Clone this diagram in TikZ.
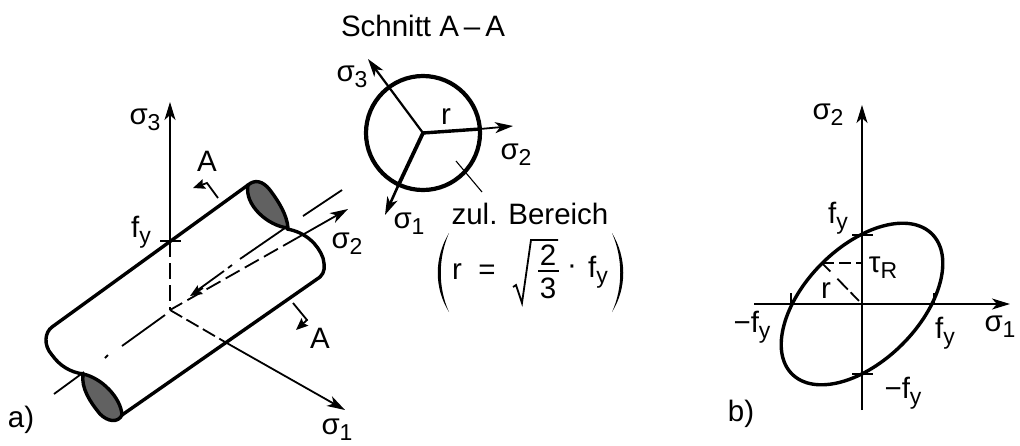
\documentclass[tikz,border=0pt]{standalone}
\usepackage{fontspec}
\setmainfont{Liberation Sans}
\usetikzlibrary{arrows.meta}
\newcommand{\sbs}[1]{\raisebox{-.2em}{\fontsize{23}{23}\selectfont #1}}
\newcommand{\sg}[1]{σ\sbs{#1}}
\newcommand{\fy}{f\sbs{y}}
\tikzset{
 lbl/.style={inner sep=0pt,font=\fontsize{29.5}{32}\selectfont},
 thin line/.style={line width=1.8pt},
 heavy/.style={line width=3.4pt},
 tip/.style={-{Stealth[length=18pt,width=11pt,inset=5pt]}},
 smalltip/.style={-{Stealth[length=12pt,width=10pt,inset=2pt]}},
 sec/.style={line width=4.2pt},
 shade fill/.style={fill=black!62},
}
\begin{document}
\begin{tikzpicture}[x=1pt,y=-1pt]
\useasboundingbox (0,0) rectangle (1020,445);
% ---------- a) axes
\coordinate (O) at (170,310);
\coordinate (f) at (170,241);
\coordinate (s3) at (170,102);
\coordinate (s1) at (345,410);
\coordinate (s1v) at (225,342);
\coordinate (s2) at (348,209);
\coordinate (s2v) at (297,238);
\coordinate (cl) at (54,394);
\coordinate (cr) at (342,190);
\draw[thin line,tip] (f) -- (s3);
\draw[thin line,dash pattern=on 16pt off 6pt] (f) -- (O);
\draw[thin line,tip] (s1v) -- (s1);
\draw[thin line,dash pattern=on 14pt off 5pt] (O) -- (s1v);
\draw[thin line,tip] (s2v) -- (s2);
\draw[thin line,dash pattern=on 16pt off 6pt] (s2v) -- (O);
\draw[thin line,smalltip] (203,288) -- (190,296);
% centre line
\draw[thin line] (cl) -- (84,372);
\draw[thin line] (105,358) -- (108,355);
\draw[thin line] (122,346) -- (165,315);
\draw[thin line] (195,292) -- (224,271);
\draw[thin line] (228,268) -- (232,265);
\draw[thin line] (240,259) -- (285,228);
\draw[thin line] (303,216) -- (cr);
% tick
\draw[thin line] (160,241) -- (181,241);
% cylinder
\coordinate (ul) at (52,327);
\coordinate (ur) at (248,185);
\coordinate (ll) at (122,415);
\coordinate (lr) at (320,277);
\draw[heavy,line cap=round] (ul) -- (ur);
\draw[heavy,line cap=round] (ll) -- (lr);
\draw[heavy,line cap=round] (ul) .. controls (45,332) and (43,345) .. (52,355) .. controls (60,366) and (70,372) .. (83,374);
\draw[heavy,line cap=round] (287,229) .. controls (305,232) and (318,244) .. (323,258) .. controls (325,267) and (325,272) .. (lr);
% lens ends
\draw[heavy,shade fill] (248,185) .. controls (255,179) and (263,181) .. (270,190) .. controls (279,202) and (287,215) .. (288,228) .. controls (268,226) and (244,205) .. (248,185) -- cycle;
\draw[heavy,shade fill] (83,374) .. controls (102,378) and (121,398) .. (122,415) .. controls (118,423) and (108,422) .. (100,414) .. controls (90,402) and (81,388) .. (83,374) -- cycle;
% section arrows
\coordinate (ab1) at (218,198);
\coordinate (ab2) at (207,183);
\coordinate (ab3) at (193,188);
\coordinate (bb1) at (293,303);
\coordinate (bb2) at (307,320);
\coordinate (bb3) at (296,330);
\draw[thin line,smalltip] (ab1) -- (ab2) -- (ab3);
\draw[thin line,smalltip] (bb1) -- (bb2) -- (bb3);
\node[lbl] (ls3) at (145,120) {\sg{3}};
\node[lbl] (la1) at (207,161) {A};
\node[lbl] (lfy) at (141,232) {\fy};
\node[lbl] (ls2) at (347,244) {\sg{2}};
\node[lbl] (la2) at (320,338) {A};
\node[lbl] (ls1) at (337,430) {\sg{1}};
\node[lbl] (la) at (21,420) {a)};
% ---------- section
\node[lbl] (title) at (423,26) {Schnitt A\,–\,A};
\coordinate (C) at (423,133);
\draw[sec] (C) circle (57);
\coordinate (t3) at (368,59);
\coordinate (t2) at (513,126);
\coordinate (t1) at (385,215);
\coordinate (m3) at (388,88);
\coordinate (m2) at (480,129);
\coordinate (m1) at (398,186);
\draw[line width=2.2pt,tip] (C) -- (t3);
\draw[heavy,line cap=round] (C) -- (m2);
\draw[thin line,tip] (m2) -- (t2);
\draw[line width=3.8pt,line cap=round] (C) -- (m1);
\draw[line width=2.6pt,tip] (m1) -- (t1);
\coordinate (la1c) at (456,161);
\coordinate (la2c) at (482,192);
\draw[line width=1.1pt] (la1c) -- (la2c);
\node[lbl] (ss3) at (352,77) {\sg{3}};
\node[lbl] (rr) at (446,117) {r};
\node[lbl] (ss2) at (516,155) {\sg{2}};
\node[lbl] (ss1) at (409,224) {\sg{1}};
\node[lbl] (zb) at (530,214) {zul. Bereich};
% formula
\node[lbl] (fr) at (457,272) {r};
\node[lbl] (feq) at (487,272) {=};
\node[lbl] (f2) at (548,255) {2};
\node[lbl] (f3) at (548,288) {3};
\node[lbl] (fd) at (572,270) {·};
\node[lbl] (ff) at (598,272) {\fy};
\draw[line width=1.8pt,line join=miter] (513,287) -- (516,285) -- (522,303) -- (531,240) -- (558,240);
\draw[line width=1.8pt] (538,271) -- (559,271);
\fill (449,233) .. controls (434,258) and (434,288) .. (449,312) .. controls (438,288) and (438,258) .. (449,233) -- cycle;
\fill (612,233) .. controls (627,258) and (627,288) .. (612,312) .. controls (623,288) and (623,258) .. (612,233) -- cycle;
% ---------- b)
\coordinate (B) at (862,304);
\coordinate (bt) at (862,105);
\coordinate (bb) at (862,410);
\coordinate (bl) at (754,304);
\coordinate (br) at (1010,304);
\draw[thin line,tip] (bb) -- (bt);
\draw[thin line,tip] (bl) -- (br);
\draw[heavy] (B) ellipse [x radius=99,y radius=57,rotate=45];
\coordinate (rp) at (822,263);
\coordinate (tp) at (862,263);
\draw[thin line,dash pattern=on 12pt off 5pt] (rp) -- (tp);
\draw[thin line,dash pattern=on 12pt off 10pt on 15pt off 4pt] (rp) -- (B);
\draw[thin line] (852,235) -- (873,235);
\draw[thin line] (852,374) -- (873,374);
\draw[thin line] (791,293) -- (791,304);
\draw[thin line] (934,293) -- (934,304);
\node[lbl] (bs2) at (828,115) {\sg{2}};
\node[lbl] (bfy) at (838,218) {\fy};
\node[lbl] (btr) at (883,268) {τ\sbs{R}};
\node[lbl] (br2) at (826,291) {r};
\node[lbl] (bmf) at (752,327) {−\fy};
\node[lbl] (bf2) at (945,333) {\fy};
\node[lbl] (bs1) at (1000,327) {\sg{1}};
\node[lbl] (bmf2) at (903,393) {−\fy};
\node[lbl] (lb) at (741,414) {b)};
\end{tikzpicture}
\end{document}
